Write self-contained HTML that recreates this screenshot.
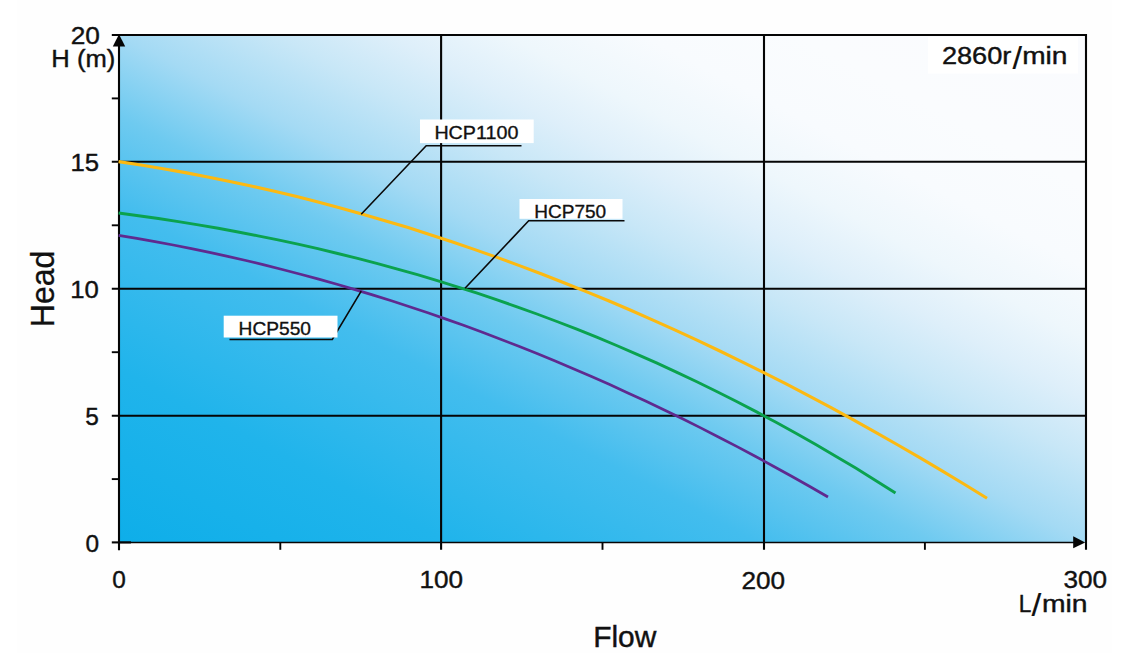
<!DOCTYPE html>
<html lang="en">
<head>
<meta charset="utf-8">
<title>Pump performance curves</title>
<style>
html,body{margin:0;padding:0;background:#fff;}
body{width:1145px;height:670px;overflow:hidden;}
svg{display:block;}
text{font-family:"Liberation Sans",sans-serif;fill:#111;}
</style>
</head>
<body>
<svg width="1145" height="670" viewBox="0 0 1145 670">
<defs>
<linearGradient id="bg" x1="0" y1="1" x2="1" y2="0">
<stop offset="0" stop-color="#0eaee9"/>
<stop offset="0.17" stop-color="#20b4eb"/>
<stop offset="0.33" stop-color="#43bdee"/>
<stop offset="0.42" stop-color="#6ecaf0"/>
<stop offset="0.5" stop-color="#a4daf4"/>
<stop offset="0.58" stop-color="#c8e7f7"/>
<stop offset="0.64" stop-color="#deeffa"/>
<stop offset="0.70" stop-color="#eef7fc"/>
<stop offset="0.77" stop-color="#f8fbfe"/>
<stop offset="0.85" stop-color="#fafcfe"/>
<stop offset="1" stop-color="#fafbfe"/>
</linearGradient>
</defs>
<rect x="0" y="0" width="1145" height="670" fill="#ffffff"/>
<rect x="17" y="0" width="1095" height="653" fill="#fefefe"/>
<!-- plot area -->
<rect x="119" y="35" width="967" height="507" fill="url(#bg)"/>
<!-- grid -->
<g stroke="#050505" stroke-width="2.1" fill="none">
<line x1="111.8" y1="35" x2="1087" y2="35"/>
<line x1="111.8" y1="161.8" x2="1086" y2="161.8"/>
<line x1="111.8" y1="288.7" x2="1086" y2="288.7"/>
<line x1="111.8" y1="415.8" x2="1086" y2="415.8"/>
<line x1="111.8" y1="542.4" x2="131" y2="542.4"/>
<line x1="119" y1="44" x2="119" y2="550.2"/>
<line x1="441.1" y1="35" x2="441.1" y2="549.8"/>
<line x1="764" y1="35" x2="764" y2="549.8"/>
<line x1="1086" y1="34" x2="1086" y2="549.8"/>
</g>
<line x1="119" y1="542.5" x2="1076" y2="542.5" stroke="#050505" stroke-width="1.7"/>
<!-- minor ticks -->
<g stroke="#050505" stroke-width="1.9" fill="none">
<line x1="111.8" y1="98.4" x2="119" y2="98.4"/>
<line x1="111.8" y1="225.3" x2="119" y2="225.3"/>
<line x1="111.8" y1="352.2" x2="119" y2="352.2"/>
<line x1="111.8" y1="479.1" x2="119" y2="479.1"/>
<line x1="280.3" y1="542" x2="280.3" y2="549.8"/>
<line x1="602.5" y1="542" x2="602.5" y2="549.8"/>
<line x1="924.9" y1="542" x2="924.9" y2="549.8"/>
</g>
<!-- arrows -->
<polygon points="119,34.2 112.8,46.4 125.2,46.4" fill="#050505"/>
<polygon points="1085.2,542.4 1073.2,536.3 1073.2,548.3" fill="#050505"/>
<!-- curves -->
<path d="M118.6,161.6 L140.9,165.0 L163.1,168.7 L185.4,172.6 L207.7,176.9 L229.9,181.4 L252.2,186.2 L274.5,191.3 L296.7,196.6 L319.0,202.3 L341.3,208.2 L363.5,214.4 L385.8,220.9 L408.1,227.6 L430.3,234.7 L452.6,242.0 L474.9,249.6 L497.1,257.4 L519.4,265.6 L541.7,274.0 L563.9,282.7 L586.2,291.6 L608.5,300.8 L630.7,310.3 L653.0,320.1 L675.3,330.1 L697.5,340.4 L719.8,351.0 L742.1,361.8 L764.3,372.9 L786.6,384.2 L808.9,395.9 L831.1,407.7 L853.4,419.9 L875.7,432.3 L897.9,445.0 L920.2,457.9 L942.5,471.1 L964.7,484.5 L987.0,498.2" fill="none" stroke="#fcb912" stroke-width="3.1"/>
<path d="M118.6,213.0 L138.5,215.7 L158.4,218.5 L178.4,221.6 L198.3,224.9 L218.2,228.3 L238.1,232.0 L258.0,235.8 L278.0,239.9 L297.9,244.2 L317.8,248.7 L337.7,253.5 L357.6,258.4 L377.6,263.6 L397.5,269.1 L417.4,274.7 L437.3,280.7 L457.2,286.8 L477.2,293.2 L497.1,299.9 L517.0,306.8 L536.9,314.0 L556.9,321.5 L576.8,329.2 L596.7,337.2 L616.6,345.5 L636.5,354.1 L656.5,362.9 L676.4,372.1 L696.3,381.5 L716.2,391.2 L736.1,401.3 L756.1,411.6 L776.0,422.3 L795.9,433.3 L815.8,444.6 L835.7,456.2 L855.7,468.1 L875.6,480.4 L895.5,493.0" fill="none" stroke="#0ba24e" stroke-width="2.9"/>
<path d="M118.6,235.4 L136.8,238.4 L155.0,241.6 L173.2,245.0 L191.4,248.6 L209.5,252.4 L227.7,256.4 L245.9,260.5 L264.1,264.9 L282.3,269.5 L300.5,274.2 L318.7,279.1 L336.9,284.3 L355.1,289.6 L373.3,295.1 L391.4,300.8 L409.6,306.7 L427.8,312.8 L446.0,319.1 L464.2,325.6 L482.4,332.3 L500.6,339.2 L518.8,346.3 L537.0,353.5 L555.2,361.0 L573.3,368.7 L591.5,376.5 L609.7,384.6 L627.9,392.9 L646.1,401.3 L664.3,410.0 L682.5,418.8 L700.7,427.9 L718.9,437.2 L737.1,446.6 L755.2,456.3 L773.4,466.2 L791.6,476.2 L809.8,486.5 L828.0,497.0" fill="none" stroke="#5f2a8f" stroke-width="2.7"/>
<!-- leader lines -->
<g stroke="#0a0a0a" stroke-width="1.6" fill="none">
<polyline points="361.2,214.3 426.2,145.7 521.5,145.7"/>
<polyline points="465,288.3 528.7,220.8 624.5,220.8"/>
<polyline points="361.2,291.2 332.3,339.5 229.5,339.5"/>
</g>
<!-- label boxes -->
<rect x="420" y="119.5" width="113.7" height="23.6" fill="#fff"/>
<rect x="519.5" y="199" width="103" height="19.8" fill="#fff"/>
<rect x="223.7" y="315.7" width="113.8" height="21.8" fill="#fff"/>
<rect x="928" y="37" width="150" height="36.5" fill="#fff"/>
<g font-size="19.2px" stroke="#111" stroke-width="0.35">
<text x="434.4" y="138.8" textLength="84" lengthAdjust="spacingAndGlyphs">HCP1100</text>
<text x="534.2" y="217.6" textLength="72" lengthAdjust="spacingAndGlyphs">HCP750</text>
<text x="238.6" y="334.6" textLength="72.4" lengthAdjust="spacingAndGlyphs">HCP550</text>
</g>
<g font-size="24.4px" stroke="#111" stroke-width="0.4">
<text y="64.3"><tspan x="941.9" textLength="69.5" lengthAdjust="spacingAndGlyphs">2860r</tspan><tspan x="1012.4" dy="4.4" font-size="31.6px" stroke-width="0.1" textLength="9.6" lengthAdjust="spacingAndGlyphs">/</tspan><tspan x="1022.2" dy="-4.4" textLength="45.3" lengthAdjust="spacingAndGlyphs">min</tspan></text>
<!-- axis tick labels -->
<text x="70.7" y="44.2" textLength="29.2" lengthAdjust="spacingAndGlyphs">20</text>
<text x="70.4" y="171.2" textLength="28.6" lengthAdjust="spacingAndGlyphs">15</text>
<text x="70.2" y="298.4" textLength="28.6" lengthAdjust="spacingAndGlyphs">10</text>
<text x="85.3" y="425.1">5</text>
<text x="85.5" y="552">0</text>
<text x="112.3" y="588">0</text>
<text x="419.5" y="588" textLength="43.6" lengthAdjust="spacingAndGlyphs">100</text>
<text x="741.5" y="588.6" textLength="43.6" lengthAdjust="spacingAndGlyphs">200</text>
<text x="1063.4" y="588" textLength="43.6" lengthAdjust="spacingAndGlyphs">300</text>
<text x="51.3" y="67.4" textLength="64" lengthAdjust="spacingAndGlyphs">H (m)</text>
<text y="611.6"><tspan x="1018.7" textLength="12.6" lengthAdjust="spacingAndGlyphs">L</tspan><tspan x="1031.4" dy="4.4" font-size="31.6px" stroke-width="0.1" textLength="9.8" lengthAdjust="spacingAndGlyphs">/</tspan><tspan x="1041.9" dy="-4.4" textLength="45.6" lengthAdjust="spacingAndGlyphs">min</tspan></text>
</g>
<text x="593.2" y="646.9" font-size="28.6px" textLength="63.2" lengthAdjust="spacingAndGlyphs" stroke="#111" stroke-width="0.4">Flow</text>
<text transform="translate(54,327.2) rotate(-90) scale(1,1.04)" font-size="32px" fill="#000" stroke="#000" stroke-width="0.28">Head</text>
</svg>
</body>
</html>
